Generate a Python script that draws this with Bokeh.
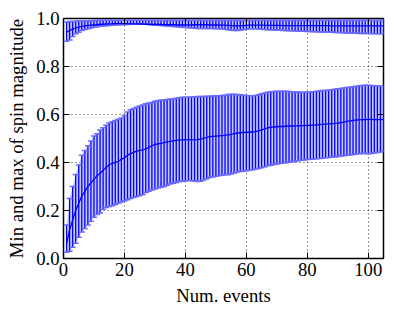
from bokeh.plotting import figure
from bokeh.models import Range1d, FixedTicker, LinearAxis, PrintfTickFormatter, CustomJSTickFormatter
from bokeh.embed import file_html
from bokeh.resources import INLINE

# ---------------- data ----------------
num_events = list(range(1, 106))

min_mean = [
    0.06, 0.12, 0.16, 0.20, 0.23, 0.26, 0.28, 0.30, 0.315, 0.33,
    0.345, 0.355, 0.367, 0.38, 0.39, 0.397, 0.40, 0.405, 0.413, 0.42,
    0.43, 0.437, 0.442, 0.447, 0.45, 0.453, 0.457, 0.463, 0.47, 0.475,
    0.478, 0.48, 0.483, 0.486, 0.488, 0.49, 0.492, 0.493, 0.494, 0.495,
    0.495, 0.494, 0.494, 0.495, 0.497, 0.501, 0.505, 0.508, 0.509, 0.51,
    0.511, 0.512, 0.513, 0.515, 0.517, 0.52, 0.522, 0.524, 0.525, 0.526,
    0.526, 0.527, 0.529, 0.532, 0.536, 0.54, 0.544, 0.546, 0.548, 0.549,
    0.55, 0.55, 0.551, 0.552, 0.552, 0.553, 0.553, 0.554, 0.554, 0.555,
    0.555, 0.556, 0.557, 0.558, 0.559, 0.56, 0.561, 0.562, 0.563, 0.564,
    0.566, 0.568, 0.571, 0.573, 0.575, 0.577, 0.578, 0.579, 0.579, 0.58,
    0.58, 0.579, 0.579, 0.579, 0.58,
]
min_hi = [
    0.14, 0.25, 0.30, 0.35, 0.39, 0.43, 0.45, 0.47, 0.49, 0.51,
    0.52, 0.535, 0.545, 0.555, 0.565, 0.57, 0.575, 0.58, 0.585, 0.595,
    0.61, 0.62, 0.625, 0.63, 0.635, 0.64, 0.645, 0.648, 0.65, 0.655,
    0.657, 0.66, 0.66, 0.662, 0.665, 0.665, 0.668, 0.67, 0.672, 0.672,
    0.672, 0.673, 0.673, 0.675, 0.675, 0.675, 0.676, 0.676, 0.677, 0.678,
    0.678, 0.679, 0.68, 0.683, 0.684, 0.684, 0.683, 0.682, 0.68, 0.679,
    0.678, 0.678, 0.679, 0.682, 0.686, 0.69, 0.693, 0.695, 0.696, 0.697,
    0.697, 0.697, 0.697, 0.696, 0.695, 0.694, 0.694, 0.693, 0.693, 0.694,
    0.694, 0.695, 0.697, 0.698, 0.70, 0.70, 0.702, 0.703, 0.705, 0.707,
    0.708, 0.71, 0.712, 0.714, 0.716, 0.718, 0.72, 0.721, 0.722, 0.722,
    0.721, 0.72, 0.719, 0.718, 0.718,
]
min_lo = [
    0.026, 0.03, 0.047, 0.064, 0.089, 0.11, 0.125, 0.14, 0.155, 0.172,
    0.183, 0.19, 0.205, 0.212, 0.217, 0.22, 0.225, 0.23, 0.235, 0.24,
    0.245, 0.25, 0.254, 0.258, 0.262, 0.267, 0.275, 0.28, 0.285, 0.29,
    0.294, 0.297, 0.30, 0.305, 0.31, 0.314, 0.317, 0.32, 0.322, 0.324,
    0.325, 0.324, 0.322, 0.321, 0.322, 0.327, 0.332, 0.337, 0.34, 0.343,
    0.345, 0.347, 0.349, 0.349, 0.352, 0.356, 0.36, 0.362, 0.364, 0.366,
    0.368, 0.37, 0.373, 0.375, 0.378, 0.382, 0.386, 0.389, 0.392, 0.394,
    0.396, 0.398, 0.399, 0.401, 0.403, 0.405, 0.407, 0.409, 0.41, 0.412,
    0.414, 0.415, 0.416, 0.417, 0.418, 0.42, 0.421, 0.422, 0.423, 0.425,
    0.427, 0.428, 0.43, 0.431, 0.433, 0.435, 0.436, 0.437, 0.437, 0.436,
    0.437, 0.44, 0.442, 0.444, 0.446,
]

max_mean = [
    0.943, 0.95, 0.956, 0.96, 0.964, 0.967, 0.969, 0.971, 0.972, 0.973,
    0.974, 0.975, 0.976, 0.977, 0.978, 0.978, 0.979, 0.979, 0.979, 0.979,
    0.979, 0.978, 0.978, 0.978, 0.977, 0.977, 0.976, 0.976, 0.975, 0.975,
    0.975, 0.975, 0.974, 0.974, 0.974, 0.974, 0.973, 0.973, 0.973, 0.973,
    0.973, 0.973, 0.974, 0.974, 0.974, 0.974, 0.974, 0.973, 0.973, 0.973,
    0.973, 0.972, 0.972, 0.971, 0.97, 0.969, 0.969, 0.969, 0.97, 0.971,
    0.972, 0.972, 0.972, 0.972, 0.972, 0.971, 0.971, 0.971, 0.971, 0.971,
    0.971, 0.97, 0.97, 0.97, 0.97, 0.97, 0.97, 0.97, 0.97, 0.97,
    0.97, 0.97, 0.97, 0.97, 0.97, 0.97, 0.969, 0.969, 0.969, 0.969,
    0.969, 0.969, 0.969, 0.969, 0.969, 0.969, 0.969, 0.969, 0.969, 0.969,
    0.969, 0.969, 0.969, 0.969, 0.969,
]
max_lo = [
    0.905, 0.91, 0.925, 0.936, 0.943, 0.95, 0.954, 0.957, 0.96, 0.964,
    0.966, 0.968, 0.969, 0.97, 0.971, 0.972, 0.973, 0.974, 0.974, 0.975,
    0.975, 0.976, 0.976, 0.977, 0.977, 0.977, 0.976, 0.975, 0.974, 0.973,
    0.972, 0.971, 0.97, 0.969, 0.968, 0.967, 0.966, 0.965, 0.964, 0.963,
    0.961, 0.96, 0.959, 0.958, 0.958, 0.958, 0.958, 0.958, 0.958, 0.957,
    0.957, 0.956, 0.955, 0.953, 0.951, 0.95, 0.95, 0.951, 0.953, 0.955,
    0.957, 0.957, 0.957, 0.956, 0.955, 0.954, 0.953, 0.952, 0.952, 0.951,
    0.951, 0.95, 0.95, 0.949, 0.949, 0.948, 0.948, 0.947, 0.947, 0.946,
    0.946, 0.945, 0.945, 0.944, 0.944, 0.943, 0.943, 0.943, 0.942, 0.942,
    0.941, 0.941, 0.94, 0.94, 0.939, 0.939, 0.938, 0.938, 0.937, 0.937,
    0.937, 0.936, 0.936, 0.936, 0.936,
]
max_hi = [
    0.985, 0.987, 0.988, 0.989, 0.99, 0.99, 0.991, 0.991, 0.992, 0.992,
    0.993, 0.993, 0.993, 0.993, 0.993, 0.993, 0.993, 0.993, 0.993, 0.993,
    0.993, 0.993, 0.993, 0.993, 0.993, 0.993, 0.993, 0.993, 0.993, 0.993,
    0.993, 0.993, 0.993, 0.993, 0.993, 0.993, 0.993, 0.993, 0.993, 0.993,
    0.993, 0.993, 0.993, 0.993, 0.993, 0.993, 0.993, 0.993, 0.993, 0.993,
    0.993, 0.993, 0.993, 0.993, 0.993, 0.993, 0.993, 0.993, 0.993, 0.993,
    0.993, 0.993, 0.993, 0.993, 0.993, 0.993, 0.993, 0.993, 0.993, 0.993,
    0.993, 0.993, 0.993, 0.993, 0.993, 0.993, 0.993, 0.993, 0.993, 0.993,
    0.993, 0.993, 0.993, 0.993, 0.993, 0.993, 0.993, 0.993, 0.993, 0.993,
    0.993, 0.993, 0.993, 0.993, 0.993, 0.993, 0.993, 0.993, 0.993, 0.993,
    0.993, 0.993, 0.993, 0.993, 0.993,
]

x_ticks = [0, 20, 40, 60, 80, 100]
y_ticks = [0.0, 0.2, 0.4, 0.6, 0.8, 1.0]
x_label = "Num. events"
y_label = "Min and max of spin magnitude"

# ---------------- figure ----------------
FONT = "Liberation Serif"
FSIZE = "18.7px"
BLUE = "#0000ff"

p = figure(width=394, height=316, output_backend="svg", toolbar_location=None,
           x_range=Range1d(0, 105), y_range=Range1d(0, 1),
           min_border_left=63, min_border_right=11, min_border_top=18,
           min_border_bottom=58)
p.background_fill_color = "white"
p.border_fill_color = "white"
p.outline_line_color = "black"
p.outline_line_width = 1.5

for lo, hi, mean in ((min_lo, min_hi, min_mean), (max_lo, max_hi, max_mean)):
    p.varea(x=num_events, y1=lo, y2=hi, fill_color="#c4c4ff", fill_alpha=1.0)
    p.segment(x0=num_events, y0=lo, x1=num_events, y1=hi,
              line_color=BLUE, line_width=1.3)
    p.scatter(x=num_events, y=hi, marker="dash", size=6,
              line_color="#6a6aff", line_width=1.5)
    p.scatter(x=num_events, y=lo, marker="dash", size=6,
              line_color="#6a6aff", line_width=1.5)
    p.line(x=num_events, y=mean, line_color=BLUE, line_width=1.3)

# axes
p.xaxis.ticker = FixedTicker(ticks=x_ticks)
p.yaxis.ticker = FixedTicker(ticks=y_ticks)
p.yaxis.formatter = PrintfTickFormatter(format="%.1f")
p.xaxis.axis_label = x_label
p.yaxis.axis_label = y_label

for ax in (p.xaxis[0], p.yaxis[0]):
    ax.axis_line_color = None
    ax.major_tick_in = 6
    ax.major_tick_out = 0
    ax.major_tick_line_color = "black"
    ax.minor_tick_line_color = None
    ax.major_label_text_font = FONT
    ax.major_label_text_font_size = FSIZE
    ax.major_label_text_color = "black"
    ax.major_label_standoff = 4
    ax.axis_label_text_font = FONT
    ax.axis_label_text_font_size = FSIZE
    ax.axis_label_text_font_style = "normal"
    ax.axis_label_text_color = "black"
    ax.axis_label_standoff = 6

# mirrored ticks on top and right (no labels)
top = LinearAxis(ticker=FixedTicker(ticks=x_ticks),
                 formatter=CustomJSTickFormatter(code="return ''"))
right = LinearAxis(ticker=FixedTicker(ticks=y_ticks),
                   formatter=CustomJSTickFormatter(code="return ''"))
for ax in (top, right):
    ax.axis_line_color = None
    ax.major_tick_in = 6
    ax.major_tick_out = 0
    ax.major_tick_line_color = "black"
    ax.minor_tick_line_color = None
    ax.major_label_text_font_size = "1px"
    ax.major_label_standoff = 0
p.add_layout(top, "above")
p.add_layout(right, "right")

p.grid.grid_line_color = "black"
p.grid.grid_line_dash = "1 3"
p.grid.grid_line_alpha = 0.8
p.grid.grid_line_width = 1

open("out.html", "w").write(file_html(p, INLINE))
